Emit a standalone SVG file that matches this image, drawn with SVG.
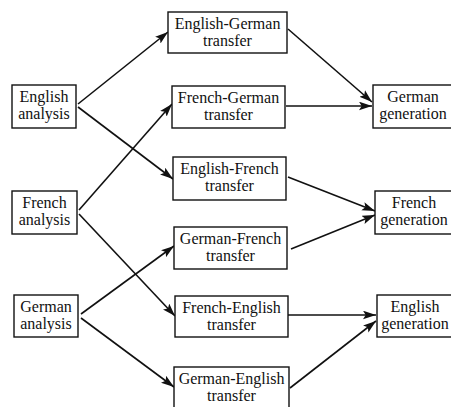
<svg xmlns="http://www.w3.org/2000/svg" width="451" height="407" viewBox="0 0 451 407">
<style>
.box{fill:#fff;stroke:#111;stroke-width:1.4}
.t{font-family:"Liberation Serif","Times New Roman",serif;font-size:16px;fill:#111;text-anchor:middle}
.c{stroke:#111;stroke-width:1.6;fill:none;marker-end:url(#ah)}
</style>
<defs>
<marker id="ah" viewBox="0 0 12 8" refX="12" refY="4" markerWidth="13" markerHeight="9" markerUnits="userSpaceOnUse" orient="auto">
<path d="M0,0 L12,4 L0,8 L2.5,4 z" fill="#111"/>
</marker>
</defs>
<rect width="451" height="407" fill="#fff"/>
<g id="connectors">
<line class="c" x1="78" y1="104" x2="168" y2="32"/>
<line class="c" x1="78" y1="107" x2="173" y2="179"/>
<line class="c" x1="79" y1="210" x2="172" y2="104"/>
<line class="c" x1="79" y1="214" x2="175" y2="316"/>
<line class="c" x1="81" y1="314" x2="174" y2="246"/>
<line class="c" x1="81" y1="318" x2="174" y2="387"/>
<line class="c" x1="288" y1="29" x2="372" y2="102"/>
<line class="c" x1="286" y1="106" x2="372" y2="106"/>
<line class="c" x1="288" y1="177" x2="375" y2="211"/>
<line class="c" x1="291" y1="249" x2="375" y2="215"/>
<line class="c" x1="288" y1="315" x2="376" y2="315"/>
<line class="c" x1="290" y1="388" x2="376" y2="321"/>
</g>
<g id="english-analysis"><rect class="box" x="12" y="85" width="64" height="43"/><text class="t" x="44" y="102">English</text><text class="t" x="44" y="119">analysis</text></g>
<g id="french-analysis"><rect class="box" x="12" y="191" width="65" height="43"/><text class="t" x="44.5" y="208">French</text><text class="t" x="44.5" y="225">analysis</text></g>
<g id="german-analysis"><rect class="box" x="14" y="295" width="64" height="42"/><text class="t" x="46" y="312">German</text><text class="t" x="46" y="329">analysis</text></g>
<g id="english-german-transfer"><rect class="box" x="168" y="12" width="119" height="41"/><text class="t" x="227.5" y="29">English-German</text><text class="t" x="227.5" y="46">transfer</text></g>
<g id="french-german-transfer"><rect class="box" x="172" y="86" width="113" height="42"/><text class="t" x="228.5" y="103">French-German</text><text class="t" x="228.5" y="120">transfer</text></g>
<g id="english-french-transfer"><rect class="box" x="173" y="157" width="113" height="43"/><text class="t" x="229.5" y="174">English-French</text><text class="t" x="229.5" y="191">transfer</text></g>
<g id="german-french-transfer"><rect class="box" x="174" y="227" width="113" height="42"/><text class="t" x="230.5" y="244">German-French</text><text class="t" x="230.5" y="261">transfer</text></g>
<g id="french-english-transfer"><rect class="box" x="175" y="296" width="113" height="41"/><text class="t" x="231.5" y="313">French-English</text><text class="t" x="231.5" y="330">transfer</text></g>
<g id="german-english-transfer"><rect class="box" x="174" y="367" width="115" height="41"/><text class="t" x="231.5" y="384">German-English</text><text class="t" x="231.5" y="401">transfer</text></g>
<g id="german-generation"><rect class="box" x="373" y="85" width="90" height="43"/><text class="t" x="413" y="102">German</text><text class="t" x="413" y="119">generation</text></g>
<g id="french-generation"><rect class="box" x="375" y="191" width="90" height="43"/><text class="t" x="414" y="208">French</text><text class="t" x="414" y="225">generation</text></g>
<g id="english-generation"><rect class="box" x="377" y="295" width="90" height="42"/><text class="t" x="415" y="312">English</text><text class="t" x="415" y="329">generation</text></g>
</svg>
